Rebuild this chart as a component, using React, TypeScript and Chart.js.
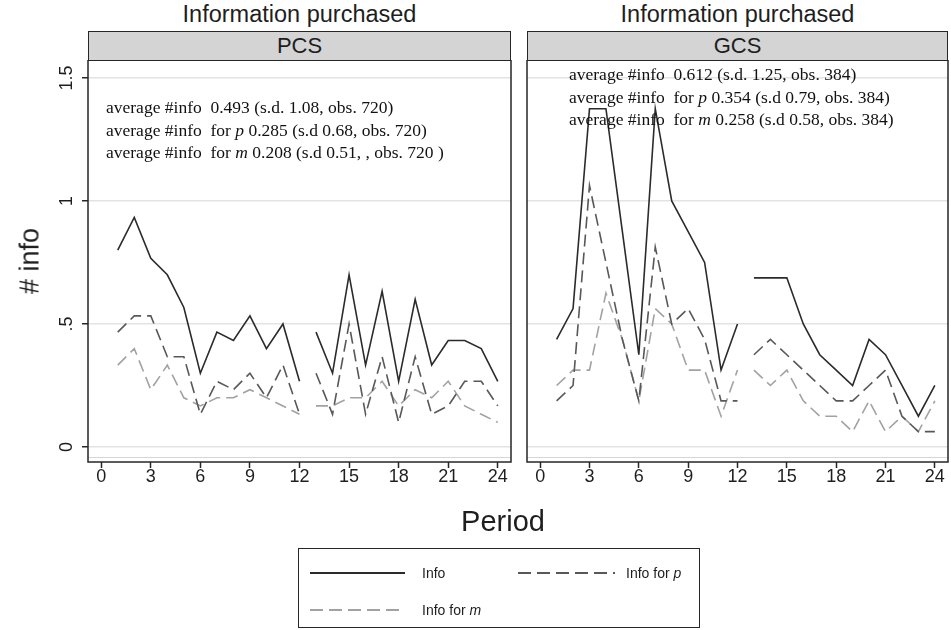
import React, { useEffect, useRef } from "react";
import { Chart, registerables } from "chart.js";

Chart.register(...registerables);

// Periods 1..24, two sessions of 12 periods each (the line breaks between them)
const periods = [1, 2, 3, 4, 5, 6, 7, 8, 9, 10, 11, 12, 13, 14, 15, 16, 17, 18, 19, 20, 21, 22, 23, 24];
const sessionBreakAfter = 12;

// PCS treatment
const pcsInfo = [0.8, 0.933, 0.767, 0.7, 0.567, 0.3, 0.467, 0.433, 0.533, 0.4, 0.5, 0.267, 0.467, 0.3, 0.7, 0.333, 0.633, 0.267, 0.6, 0.333, 0.433, 0.433, 0.4, 0.267];
const pcsInfoP = [0.467, 0.533, 0.533, 0.367, 0.367, 0.133, 0.267, 0.233, 0.3, 0.2, 0.333, 0.133, 0.3, 0.133, 0.5, 0.133, 0.367, 0.1, 0.367, 0.133, 0.167, 0.267, 0.267, 0.167];
const pcsInfoM = [0.333, 0.4, 0.233, 0.333, 0.2, 0.167, 0.2, 0.2, 0.233, 0.2, 0.167, 0.133, 0.167, 0.167, 0.2, 0.2, 0.267, 0.167, 0.233, 0.2, 0.267, 0.167, 0.133, 0.1];

// GCS treatment
const gcsInfo = [0.4375, 0.5625, 1.375, 1.375, 0.875, 0.375, 1.375, 1.0, 0.875, 0.75, 0.3125, 0.5, 0.6875, 0.6875, 0.6875, 0.5, 0.375, 0.3125, 0.25, 0.4375, 0.375, 0.25, 0.125, 0.25];
const gcsInfoP = [0.1875, 0.25, 1.0625, 0.75, 0.4375, 0.1875, 0.8125, 0.5, 0.5625, 0.4375, 0.1875, 0.1875, 0.375, 0.4375, 0.375, 0.3125, 0.25, 0.1875, 0.1875, 0.25, 0.3125, 0.125, 0.0625, 0.0625];
const gcsInfoM = [0.25, 0.3125, 0.3125, 0.625, 0.4375, 0.1875, 0.5625, 0.5, 0.3125, 0.3125, 0.125, 0.3125, 0.3125, 0.25, 0.3125, 0.1875, 0.125, 0.125, 0.0625, 0.1875, 0.0625, 0.125, 0.0625, 0.1875];

const xTickValues = [0, 3, 6, 9, 12, 15, 18, 21, 24];
const yTickValues = [0, 0.5, 1, 1.5];
const yTickLabels = ["0", ".5", "1", "1.5"];

const pcsNotes = [
  ["average #info  0.493 (s.d. 1.08, obs. 720)"],
  ["average #info  for ", "p", " 0.285 (s.d 0.68, obs. 720)"],
  ["average #info  for ", "m", " 0.208 (s.d 0.51, , obs. 720 )"],
];
const gcsNotes = [
  ["average #info  0.612 (s.d. 1.25, obs. 384)"],
  ["average #info  for ", "p", " 0.354 (s.d 0.79, obs. 384)"],
  ["average #info  for ", "m", " 0.258 (s.d 0.58, obs. 384)"],
];

const SANS = '"Liberation Sans", Arial, Helvetica, sans-serif';
const SERIF = '"Liberation Serif", "DejaVu Serif", serif';
const INK = "#1e1e1e";
const COLOR_INFO = "#2b2b2b";
const COLOR_P = "#585858";
const COLOR_M = "#a2a2a2";

function toPoints(values: number[]) {
  const pts: { x: number; y: number | null }[] = [];
  periods.forEach((x, i) => {
    pts.push({ x, y: values[i] });
    if (x === sessionBreakAfter) pts.push({ x: x + 0.5, y: null });
  });
  return pts;
}

const framePlugin = {
  id: "panelFrame",
  afterDraw(chart: any) {
    const { ctx, chartArea: a } = chart;
    ctx.save();
    ctx.strokeStyle = "#d6d6d6";
    ctx.lineWidth = 1;
    ctx.beginPath();
    ctx.moveTo(a.left, a.bottom - 4.5);
    ctx.lineTo(a.right, a.bottom - 4.5);
    ctx.stroke();
    ctx.strokeStyle = "#262626";
    ctx.lineWidth = 1.5;
    ctx.strokeRect(a.left, a.top, a.right - a.left, a.bottom - a.top);
    ctx.restore();
  },
};

function buildConfig(info: number[], p: number[], m: number[], showY: boolean, padLeft: number, padRight: number): any {
  const line = { pointRadius: 0, borderWidth: 1.6, tension: 0, spanGaps: false, fill: false };
  return {
    type: "line",
    data: {
      datasets: [
        { label: "Info", data: toPoints(info), borderColor: COLOR_INFO, ...line },
        { label: "Info for p", data: toPoints(p), borderColor: COLOR_P, borderDash: [12, 6], ...line },
        { label: "Info for m", data: toPoints(m), borderColor: COLOR_M, borderDash: [12, 6], ...line },
      ],
    },
    options: {
      animation: false,
      responsive: false,
      maintainAspectRatio: false,
      layout: { padding: { top: 0, bottom: 0, left: padLeft, right: padRight } },
      plugins: { legend: { display: false }, tooltip: { enabled: false }, title: { display: false } },
      scales: {
        x: {
          type: "linear",
          min: -0.8,
          max: 24.8,
          afterBuildTicks: (s: any) => {
            s.ticks = xTickValues.map((v) => ({ value: v }));
          },
          afterFit: (s: any) => {
            s.height = 78;
            s.paddingLeft = 0;
            s.paddingRight = 0;
          },
          ticks: {
            callback: (v: number) => String(v),
            font: { family: SANS, size: 18 },
            color: INK,
            padding: -2,
            maxRotation: 0,
            minRotation: 0,
          },
          grid: {
            drawOnChartArea: false,
            drawTicks: true,
            tickLength: 6,
            tickColor: "#262626",
            tickWidth: 1.5,
          },
          border: { display: false },
        },
        y: {
          type: "linear",
          min: -0.061,
          max: 1.573,
          afterBuildTicks: (s: any) => {
            s.ticks = yTickValues.map((v) => ({ value: v }));
          },
          afterFit: (s: any) => {
            s.width = showY ? 88 : 0;
            s.paddingTop = 0;
            s.paddingBottom = 0;
          },
          ticks: {
            display: showY,
            callback: (v: number) => yTickLabels[yTickValues.indexOf(v)],
            font: { family: SANS, size: 18 },
            color: INK,
            minRotation: 90,
            maxRotation: 90,
            crossAlign: "center",
            padding: 2,
          },
          grid: {
            color: "#e3e3e3",
            lineWidth: 1.5,
            drawTicks: showY,
            tickLength: 6,
            tickColor: "#262626",
            tickWidth: 1.5,
          },
          border: { display: false },
        },
      },
    },
    plugins: [framePlugin],
  };
}

function Panel(props: { left: number; width: number; info: number[]; p: number[]; m: number[]; showY: boolean; padLeft: number; padRight: number }) {
  const ref = useRef<HTMLCanvasElement>(null);
  useEffect(() => {
    const chart = new Chart(ref.current as HTMLCanvasElement, buildConfig(props.info, props.p, props.m, props.showY, props.padLeft, props.padRight));
    return () => chart.destroy();
  }, []);
  return (
    <canvas
      ref={ref}
      width={props.width}
      height={480}
      style={{ position: "absolute", left: props.left, top: 60, width: props.width, height: 480 }}
    />
  );
}

function Notes({ left, top, lines }: { left: number; top: number; lines: string[][] }) {
  return (
    <div style={{ position: "absolute", left, top, fontFamily: SERIF, fontSize: 17.5, lineHeight: "22.5px", color: "#111", whiteSpace: "pre" }}>
      {lines.map((parts, i) => (
        <div key={i}>
          {parts.map((t, j) => (t === "p" || t === "m" ? <i key={j}>{t}</i> : <span key={j}>{t}</span>))}
        </div>
      ))}
    </div>
  );
}

function Strip({ left, width, label }: { left: number; width: number; label: string }) {
  return (
    <>
      <div style={{ position: "absolute", left, width, top: 1, textAlign: "center", fontFamily: SANS, fontSize: 23.5, color: INK }}>
        Information purchased
      </div>
      <div
        style={{
          position: "absolute",
          left,
          top: 31,
          width,
          height: 30,
          boxSizing: "border-box",
          background: "#d4d4d4",
          border: "1.5px solid #262626",
          textAlign: "center",
          fontFamily: SANS,
          fontSize: 22,
          lineHeight: "27px",
          color: INK,
        }}
      >
        {label}
      </div>
    </>
  );
}

export default function App() {
  return (
    <div style={{ position: "absolute", left: 0, top: 0, width: 951, height: 630, background: "#fff", overflow: "hidden" }}>
      <Strip left={88} width={423} label="PCS" />
      <Strip left={527} width={421} label="GCS" />
      <Panel left={0} width={520} info={pcsInfo} p={pcsInfoP} m={pcsInfoM} showY={true} padLeft={0} padRight={9} />
      <Panel left={520} width={431} info={gcsInfo} p={gcsInfoP} m={gcsInfoM} showY={false} padLeft={7} padRight={3} />
      <Notes left={106} top={96} lines={pcsNotes} />
      <Notes left={569} top={63} lines={gcsNotes} />
      <div
        style={{
          position: "absolute",
          left: 30,
          top: 261,
          transform: "translate(-50%, -50%) rotate(-90deg)",
          fontFamily: SANS,
          fontSize: 27,
          color: INK,
          whiteSpace: "nowrap",
        }}
      >
        # info
      </div>
      <div style={{ position: "absolute", left: 503, top: 521, transform: "translate(-50%, -50%)", fontFamily: SANS, fontSize: 29, color: INK }}>
        Period
      </div>
      <div style={{ position: "absolute", left: 298, top: 548, width: 402, height: 80, boxSizing: "border-box", border: "1.2px solid #262626" }} />
      <svg style={{ position: "absolute", left: 0, top: 0 }} width={951} height={630}>
        <line x1={310} y1={573} x2={405} y2={573} stroke={COLOR_INFO} strokeWidth={2} />
        <line x1={518} y1={573} x2={615} y2={573} stroke={COLOR_P} strokeWidth={2} strokeDasharray="13 6" />
        <line x1={310} y1={610} x2={405} y2={610} stroke={COLOR_M} strokeWidth={2} strokeDasharray="13 6" />
      </svg>
      <div style={{ position: "absolute", left: 422, top: 573, transform: "translateY(-50%)", fontFamily: SANS, fontSize: 14, color: INK, whiteSpace: "nowrap" }}>
        Info
      </div>
      <div style={{ position: "absolute", left: 626, top: 573, transform: "translateY(-50%)", fontFamily: SANS, fontSize: 14, color: INK, whiteSpace: "nowrap" }}>
        Info for <i>p</i>
      </div>
      <div style={{ position: "absolute", left: 422, top: 610, transform: "translateY(-50%)", fontFamily: SANS, fontSize: 14, color: INK, whiteSpace: "nowrap" }}>
        Info for <i>m</i>
      </div>
    </div>
  );
}
